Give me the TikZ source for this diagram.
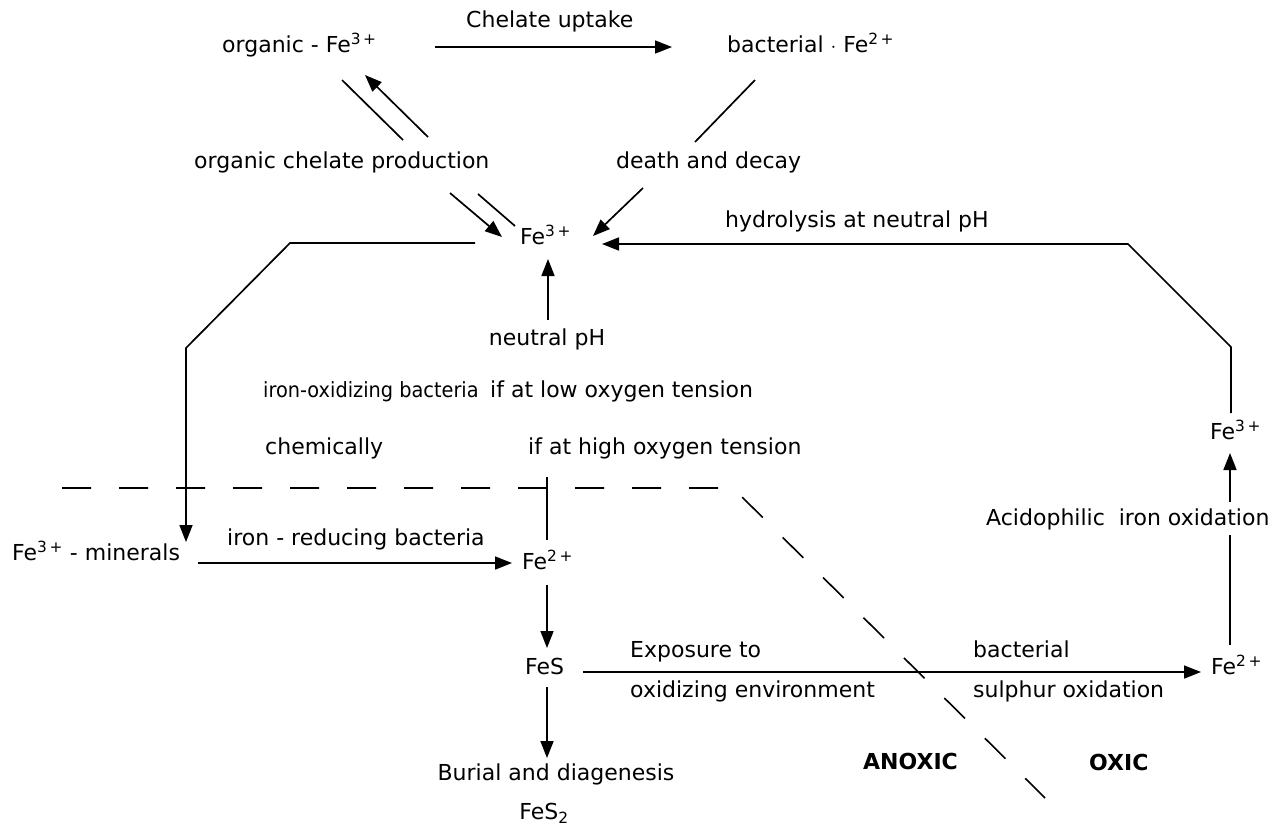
\documentclass[tikz,border=0pt]{standalone}
\usepackage{fontspec}
\setmainfont{DejaVu Sans}
\usetikzlibrary{arrows.meta}
\tikzset{
  lbl/.style={inner sep=0pt, anchor=west, text height=0.75em, text depth=0.25em, font=\fontsize{22}{26}\selectfont},
  clbl/.style={lbl, anchor=center},
  ln/.style={line width=1.7pt},
  arr/.style={ln, -{Triangle[length=17pt,width=13pt]}},
  zone/.style={line width=1.6pt, dash pattern=on 29pt off 28pt},
}
\newcommand{\sps}[1]{\textsuperscript{#1}}
\begin{document}
\begin{tikzpicture}[x=1pt,y=-1pt]
\useasboundingbox (0,0) rectangle (1286,831);
% nodes
\node[lbl] (orgFe) at (222,50) {organic - Fe\sps{3\,+}};
\node[lbl] (chel) at (466,25) {Chelate uptake};
\node[lbl] (bactFe) at (727,50) {bacterial $\cdot$ Fe\sps{2\,+}};
\node[lbl] (ocp) at (194,166) {organic chelate production};
\node[lbl] (dd) at (616,166) {death and decay};
\node[lbl] (fe3) at (520,242) {Fe\sps{3\,+}};
\node[lbl] (hyd) at (725,225) {hydrolysis at neutral pH};
\node[clbl] (nph) at (547,343) {neutral pH};
\node[lbl, font=\fontsize{21}{25}\selectfont] (iob) at (263,395) {\scalebox{0.92}[1]{iron-oxidizing bacteria}};
\node[lbl] (low) at (490,395) {if at low oxygen tension};
\node[lbl] (chem) at (265,452) {chemically};
\node[lbl] (high) at (528,452) {if at high oxygen tension};
\node[lbl] (min) at (12,558) {Fe\sps{3\,+} - minerals};
\node[lbl] (irb) at (227,543) {iron - reducing bacteria};
\node[lbl] (fe2) at (522,567) {Fe\sps{2\,+}};
\node[lbl] (fes) at (525,672) {FeS};
\node[lbl] (exp1) at (630,655) {Exposure to};
\node[lbl] (exp2) at (630,695) {oxidizing environment};
\node[lbl] (bs1) at (973,655) {bacterial};
\node[lbl] (bs2) at (973,695) {sulphur oxidation};
\node[lbl] (fe2r) at (1211,672) {Fe\sps{2\,+}};
\node[lbl] (fe3r) at (1210,437) {Fe\sps{3\,+}};
\node[lbl] (acid) at (986,523) {Acidophilic\ \ iron oxidation};
\node[lbl, font=\fontsize{22}{26}\selectfont\bfseries] (anox) at (863,767) {ANOXIC};
\node[lbl, font=\fontsize{22}{26}\selectfont\bfseries] (oxic) at (1089,768) {OXIC};
\node[clbl] (bur) at (556,778) {Burial and diagenesis};
\node[clbl] (fes2) at (544,817) {FeS\textsubscript{2}};
% connector end points
\coordinate (a1) at (435,47); \coordinate (a2) at (672,47);
\coordinate (b1) at (342,80); \coordinate (b2) at (403,140);
\coordinate (c1) at (428,137); \coordinate (c2) at (365,75);
\coordinate (d1) at (755,80); \coordinate (d2) at (695,142);
\coordinate (e1) at (450,193); \coordinate (e2) at (502,237);
\coordinate (f1) at (478,194); \coordinate (f2) at (515,226);
\coordinate (g1) at (643,188); \coordinate (g2) at (593,236);
\coordinate (h1) at (475,243); \coordinate (h2) at (290,243); \coordinate (h3) at (186,348); \coordinate (h4) at (186,542);
\coordinate (r1) at (1231,413); \coordinate (r2) at (1231,347); \coordinate (r3) at (1128,244); \coordinate (r4) at (602,244);
\coordinate (n1) at (548,320); \coordinate (n2) at (548,259);
\coordinate (v1) at (547,540); \coordinate (v2) at (547,477);
\coordinate (m1) at (198,563); \coordinate (m2) at (512,563);
\coordinate (s1) at (547,585); \coordinate (s2) at (547,648);
\coordinate (t1) at (547,687); \coordinate (t2) at (547,758);
\coordinate (x1) at (583,672); \coordinate (x2) at (1201,672);
\coordinate (y1) at (1230,645); \coordinate (y2) at (1230,535);
\coordinate (z1) at (1230,502); \coordinate (z2) at (1230,453);
\coordinate (dz1) at (62,488); \coordinate (dz2) at (733,488); \coordinate (dz3) at (1045,798);
% connectors
\draw[arr] (a1) -- (a2);
\draw[ln] (b1) -- (b2);
\draw[arr] (c1) -- (c2);
\draw[ln] (d1) -- (d2);
\draw[arr] (e1) -- (e2);
\draw[ln] (f1) -- (f2);
\draw[arr] (g1) -- (g2);
\draw[arr] (h1) -- (h2) -- (h3) -- (h4);
\draw[arr] (r1) -- (r2) -- (r3) -- (r4);
\draw[arr] (n1) -- (n2);
\draw[ln] (v1) -- (v2);
\draw[arr] (m1) -- (m2);
\draw[arr] (s1) -- (s2);
\draw[arr] (t1) -- (t2);
\draw[arr] (x1) -- (x2);
\draw[ln] (y1) -- (y2);
\draw[arr] (z1) -- (z2);
\draw[zone] (dz1) -- (dz2) -- (dz3);
\end{tikzpicture}
\end{document}
